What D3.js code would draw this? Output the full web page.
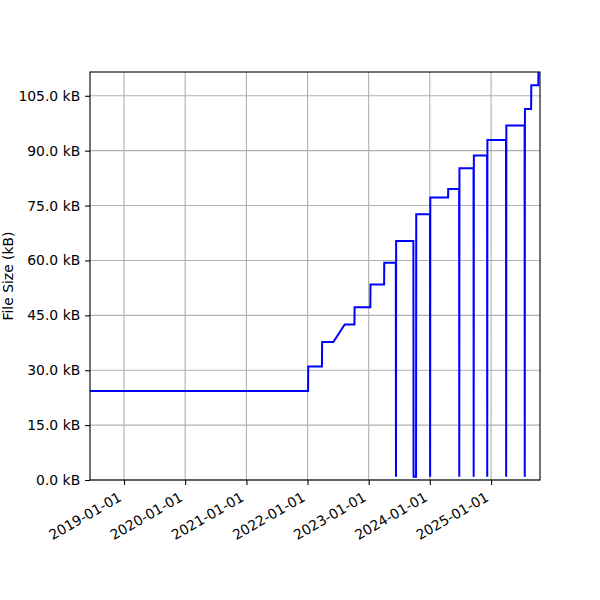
<!DOCTYPE html>
<html lang="en">
<head>
    <meta charset="UTF-8">
    <title>File Size</title>
    <script src="https://d3js.org/d3.v7.min.js"></script>
    <style>
        body {
            margin: 0;
            background: #fff;
            font-family: 'DejaVu Sans', sans-serif;
        }
    </style>
</head>
<body>
    <script>
        // commit dates and file size (kB)
        const dates = [
            "2018-06-12", "2022-01-04", "2022-01-05", "2022-03-28", "2022-03-29",
            "2022-06-04", "2022-08-11", "2022-10-08", "2022-10-09", "2023-01-11",
            "2023-01-12", "2023-04-03", "2023-04-04", "2023-06-12", "2023-06-13",
            "2023-06-14", "2023-09-25", "2023-09-26", "2023-10-11", "2023-10-12",
            "2024-01-02", "2024-01-03", "2024-01-04", "2024-04-19", "2024-04-20",
            "2024-06-24", "2024-06-25", "2024-06-26", "2024-09-18", "2024-09-19",
            "2024-09-20", "2024-12-08", "2024-12-09", "2024-12-10", "2025-03-31",
            "2025-04-01", "2025-04-02", "2025-07-20", "2025-07-21", "2025-07-22",
            "2025-08-28", "2025-08-29", "2025-10-10", "2025-10-11"
        ];
        const sizes = [
            24.3, 24.3, 31.0, 31.0, 37.7,
            37.7, 42.5, 42.5, 47.2, 47.2,
            53.4, 53.4, 59.4, 59.4, 0.9,
            65.3, 65.3, 0.9, 0.9, 72.6,
            72.6, 0.9, 77.2, 77.2, 79.5,
            79.5, 0.9, 85.2, 85.2, 0.9,
            88.7, 88.7, 0.9, 92.9, 92.9,
            0.9, 96.9, 96.9, 0.9, 101.4,
            101.4, 107.9, 107.9, 113.0
        ];
        const yTicks = [0, 15, 30, 45, 60, 75, 90, 105];
        const xTicks = ["2019-01-01", "2020-01-01", "2021-01-01", "2022-01-01",
                        "2023-01-01", "2024-01-01", "2025-01-01"];
        const xDomain = ["2018-06-12", "2025-10-20"];
        const yDomain = [0, 111.5];

        const W = 600, H = 600;
        const m = { left: 90, right: 60, top: 72, bottom: 120 };
        const font = "'DejaVu Sans', sans-serif";
        const parse = d3.utcParse("%Y-%m-%d");
        const points = dates.map((d, i) => ({ t: parse(d), v: sizes[i] }));

        const svg = d3.select("body").append("svg")
            .attr("width", W)
            .attr("height", H)
            .style("font-family", font);

        const x = d3.scaleUtc()
            .domain(xDomain.map(parse))
            .range([m.left, W - m.right]);
        const y = d3.scaleLinear()
            .domain(yDomain)
            .range([H - m.bottom, m.top]);

        svg.append("clipPath").attr("id", "clip")
            .append("rect")
            .attr("x", m.left).attr("y", m.top)
            .attr("width", W - m.left - m.right)
            .attr("height", H - m.top - m.bottom);

        // grid
        svg.append("g")
            .selectAll("line")
            .data(xTicks.map(parse))
            .join("line")
            .attr("x1", d => x(d)).attr("x2", d => x(d))
            .attr("y1", m.top).attr("y2", H - m.bottom)
            .attr("stroke", "#b0b0b0").attr("stroke-width", 1.1);
        svg.append("g")
            .selectAll("line")
            .data(yTicks)
            .join("line")
            .attr("x1", m.left).attr("x2", W - m.right)
            .attr("y1", d => y(d)).attr("y2", d => y(d))
            .attr("stroke", "#b0b0b0").attr("stroke-width", 1.1);

        // the line
        const line = d3.line()
            .x(d => x(d.t))
            .y(d => y(d.v));
        svg.append("path")
            .datum(points)
            .attr("clip-path", "url(#clip)")
            .attr("fill", "none")
            .attr("stroke", "#0000ff")
            .attr("stroke-width", 2)
            .attr("d", line);

        // axes
        const yAxis = svg.append("g")
            .attr("transform", `translate(${m.left},0)`)
            .call(d3.axisLeft(y).tickValues(yTicks)
                .tickSize(4.9).tickPadding(4.9)
                .tickFormat(d => d3.format(".1f")(d) + " kB"))
            .attr("font-family", font)
            .attr("font-size", 13.9);
        yAxis.select(".domain").remove();
        yAxis.selectAll("text").attr("fill", "#000");
        yAxis.selectAll("line").attr("stroke", "#000").attr("stroke-width", 1.1);

        const xAxis = svg.append("g")
            .attr("transform", `translate(0,${H - m.bottom})`)
            .call(d3.axisBottom(x).tickValues(xTicks.map(parse))
                .tickSize(4.9)
                .tickFormat(d3.utcFormat("%Y-%m-%d")))
            .attr("font-family", font)
            .attr("font-size", 13.9);
        xAxis.select(".domain").remove();
        xAxis.selectAll("line").attr("stroke", "#000").attr("stroke-width", 1.1);
        xAxis.selectAll("text")
            .attr("fill", "#000")
            .attr("text-anchor", "end")
            .attr("dy", null)
            .attr("y", null)
            .attr("transform", "translate(-2,20) rotate(-30)");

        // frame
        svg.append("rect")
            .attr("x", m.left).attr("y", m.top)
            .attr("width", W - m.left - m.right)
            .attr("height", H - m.top - m.bottom)
            .attr("fill", "none")
            .attr("stroke", "#000")
            .attr("stroke-width", 1.1);

        svg.append("text")
            .attr("transform", `translate(13,${(m.top + H - m.bottom) / 2}) rotate(-90)`)
            .attr("text-anchor", "middle")
            .attr("font-size", 13.9)
            .text("File Size (kB)");
    </script>
</body>
</html>
